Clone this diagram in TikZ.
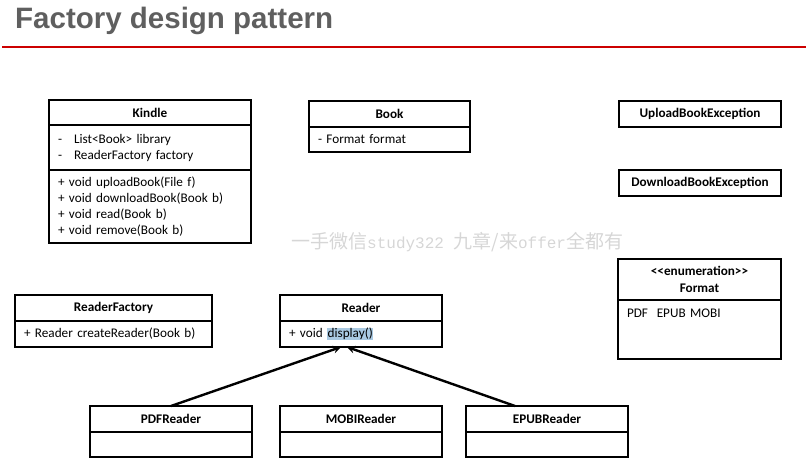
\documentclass[tikz,border=0pt]{standalone}
\usepackage{fontspec}
\setmainfont{Carlito}
\newfontfamily\titlefont{Liberation Sans}
\newfontfamily\cjk{Noto Sans CJK SC}
\newfontfamily\marklat{Liberation Mono}
\usetikzlibrary{arrows,positioning}
\definecolor{titlegray}{HTML}{5F5F5F}
\definecolor{rulered}{HTML}{CC0000}
\definecolor{marked}{HTML}{A9C9E2}
\definecolor{watermark}{HTML}{D6D6D6}

\begin{document}
\begin{tikzpicture}[x=1pt,y=-1pt,>=stealth,font=\fontsize{13.2}{16}\selectfont,
                    head/.style={draw,line width=1.1pt,font=\fontsize{13.2}{17}\selectfont\bfseries,minimum width=162pt,minimum height=26pt,inner sep=0pt,outer sep=0pt,align=center},
                    body/.style={draw,line width=1.1pt,align=left,text width=144pt,minimum height=25pt,inner xsep=9pt,inner ysep=0pt,outer sep=0pt},
                    inherit/.style={->,line width=2.4pt}]
                    \useasboundingbox (0,0) rectangle (806,476);

                    % title
                    \node[anchor=base west,inner sep=0pt,font=\titlefont\bfseries\fontsize{29.5}{32}\selectfont,text=titlegray] (title) at (15,29) {Factory design pattern};
                    \coordinate (ruleL) at (2,47.5);
                    \coordinate (ruleR) at (806,47.5);
                    \draw[rulered,line width=2pt] (ruleL) -- (ruleR);

                    % classes
                    \node[head,line width=1.8pt,minimum width=202pt,minimum height=25pt] (kindle) at (150,112.5) {Kindle};
                    \node[body,line width=1.8pt,text width=184pt,minimum height=45pt] (kindleattr) [below=0pt of kindle] {-\hspace{12pt}List<Book> library\\-\hspace{12pt}ReaderFactory factory};
                    \node[body,line width=1.8pt,text width=184pt,minimum height=73pt] (kindleops) [below=0pt of kindleattr] {+ void uploadBook(File f)\\+ void downloadBook(Book b)\\+ void read(Book b)\\+ void remove(Book b)};

                    \node[head,minimum width=161pt] (book) at (389.5,114) {Book};
                    \node[body,text width=143pt] (bookattr) [below=0pt of book] {- Format format};

                    \node[head] (upload) at (700,114) {UploadBookException};
                    \node[head] (download) at (700,183) {DownloadBookException};

                    \node[head,minimum width=163pt,minimum height=41pt] (format) at (699.5,279.5) {<{}<enumeration>{}>\\Format};
                    \node[body,text width=145pt,minimum height=59pt,text depth=32pt] (formatvals) [below=0pt of format] {PDF\ \ EPUB MOBI};

                    \node[head,minimum width=197pt] (factory) at (113.5,308) {ReaderFactory};
                    \node[body,text width=179pt,minimum height=26pt] (factoryops) [below=0pt of factory] {+ Reader createReader(Book b)};

                    \node[head] (reader) at (361,308) {Reader};
                    \node[body,minimum height=26pt] (readerops) [below=0pt of reader] {+ void {\setlength\fboxsep{0.5pt}\colorbox{marked}{display()}}};

                    \node[head] (pdfreader) at (171,419) {PDFReader};
                    \node[body] (pdfbody) [below=0pt of pdfreader] {};
                    \node[head] (mobireader) at (361,419) {MOBIReader};
                    \node[body] (mobibody) [below=0pt of mobireader] {};
                    \node[head] (epubreader) at (547,419) {EPUBReader};
                    \node[body] (epubbody) [below=0pt of epubreader] {};

                    \draw[inherit] (pdfreader.north) -- ([xshift=-20pt]readerops.south);
                    \draw[inherit] ([xshift=-32pt]epubreader.north) -- ([xshift=-14pt]readerops.south);

                    % watermark
                    \node[anchor=base west,inner sep=0pt,text=watermark] (mark) at (291,248) {{\cjk\fontsize{19}{20}\selectfont 一手微信}{\marklat\fontsize{16}{20}\selectfont study322 }{\cjk\fontsize{19}{20}\selectfont 九章/来}{\marklat\fontsize{16}{20}\selectfont offer}{\cjk\fontsize{19}{20}\selectfont 全都有}};
\end{tikzpicture}
\end{document}
